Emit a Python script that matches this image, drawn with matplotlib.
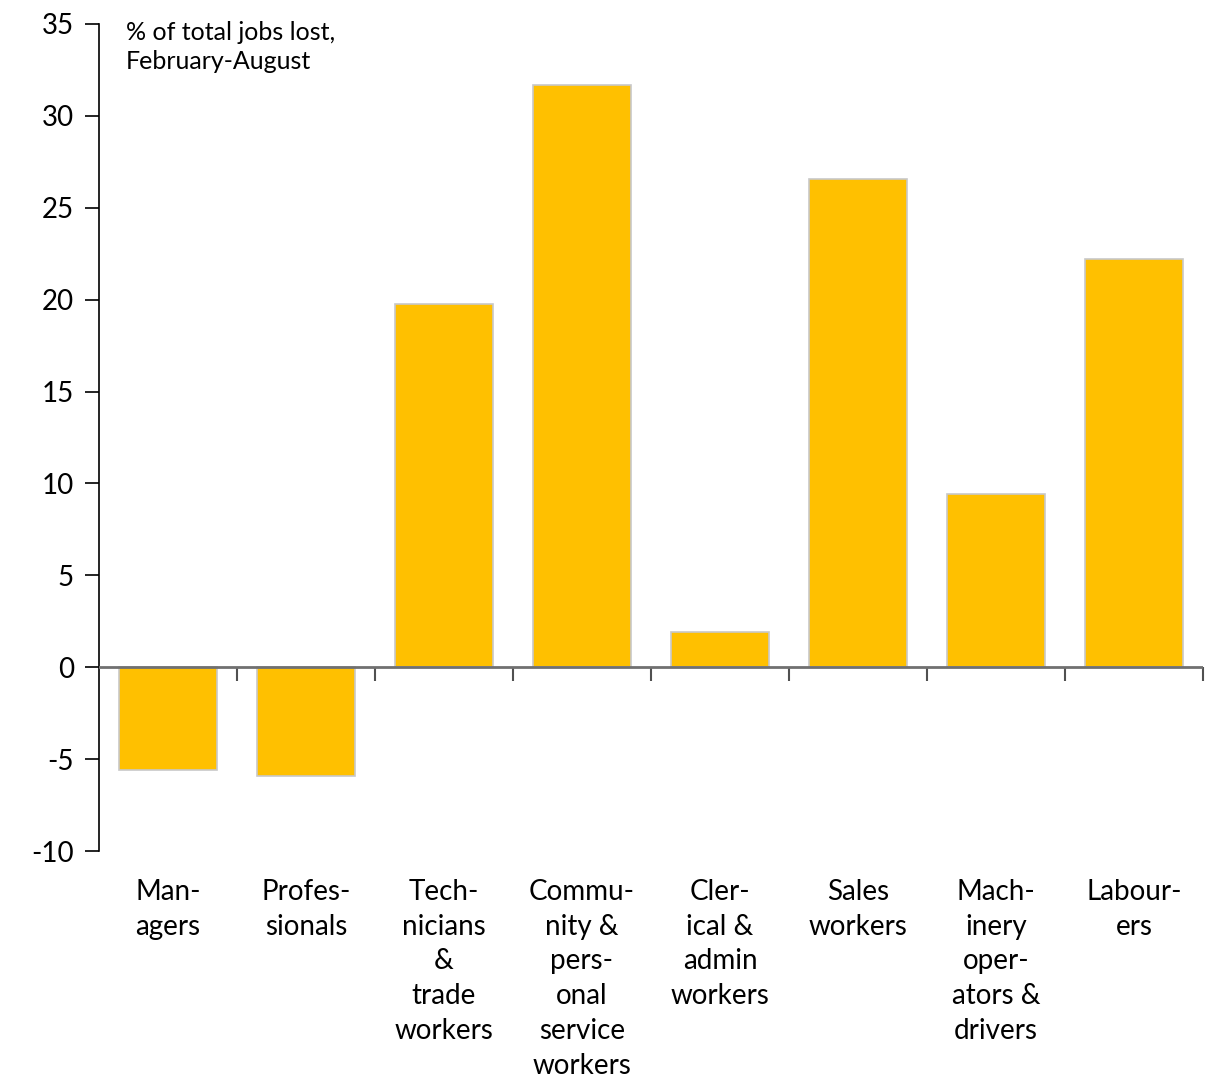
import matplotlib.pyplot as plt
import numpy as np

plt.rcParams['font.family'] = ['Lato', 'DejaVu Sans']

categories = ["Man-\nagers", "Profes-\nsionals", "Tech-\nnicians\n&\ntrade\nworkers",
              "Commu-\nnity &\npers-\nonal\nservice\nworkers", "Cler-\nical &\nadmin\nworkers",
              "Sales\nworkers", "Mach-\ninery\noper-\nators &\ndrivers", "Labour-\ners"]
jobs_lost = [-5.6, -5.9, 19.75, 31.7, 1.9, 26.55, 9.45, 22.2]
y_ticks = [-10, -5, 0, 5, 10, 15, 20, 25, 30, 35]

fig = plt.figure(figsize=(12.09, 10.79), dpi=100)
ax = fig.add_axes([0.0819, 0.2113, 0.9131, 0.7665])

x = np.arange(len(categories))
ax.bar(x, jobs_lost, width=0.71, color='#FFC000', edgecolor='#C8C8C8', linewidth=1.2, zorder=2)

ylo, yhi = -10, 35
ax.set_ylim(ylo, yhi)
ax.set_xlim(-0.5, len(categories) - 0.5)
ax.set_yticks(y_ticks)
ax.set_yticklabels([str(v) for v in y_ticks], fontsize=20)
ax.tick_params(axis='y', direction='out', length=10, width=1.2, pad=8)

ax.set_xticks(x)
ax.set_xticklabels(categories, fontsize=20, linespacing=1.42)
ax.tick_params(axis='x', length=0, pad=20)

for s in ['top', 'right', 'bottom']:
    ax.spines[s].set_visible(False)
ax.spines['left'].set_linewidth(1.2)

# zero line with category boundary ticks
ax.axhline(0, color='#707070', linewidth=2, zorder=3)
zero_pos = (0 - ylo) / (yhi - ylo)
sec = ax.secondary_xaxis(zero_pos)
sec.set_xticks(np.arange(0.5, len(categories), 1.0))
sec.set_xticklabels([])
sec.tick_params(direction='out', length=10, width=1.5, color='#505050')
sec.spines['bottom'].set_visible(False)

ax.text(0.024, 1.003, "% of total jobs lost,\nFebruary-August", transform=ax.transAxes,
        fontsize=18, va='top', ha='left', linespacing=1.3)

fig.savefig('out.png', dpi=100)
